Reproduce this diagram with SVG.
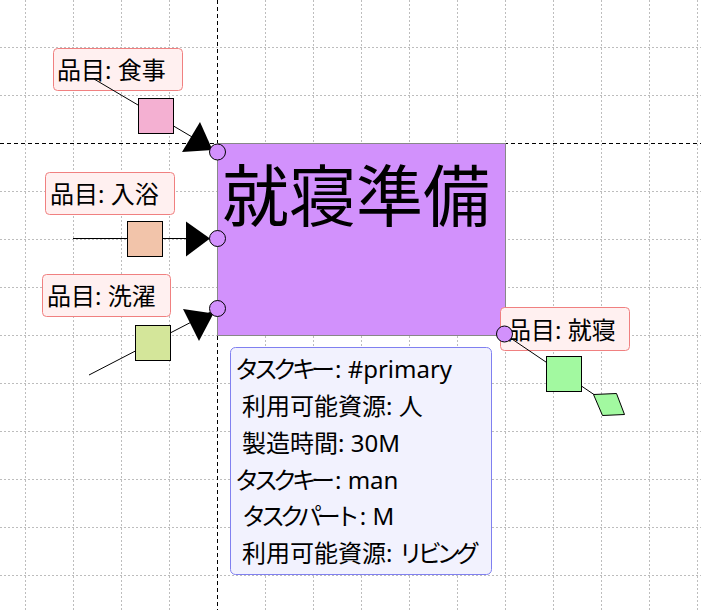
<svg xmlns="http://www.w3.org/2000/svg" width="701" height="610" viewBox="0 0 701 610">
<style>
.grid{stroke:#bdbdbd;stroke-width:1;stroke-dasharray:2 2;fill:none}
.guide{stroke:#000;stroke-width:1;stroke-dasharray:4 3;fill:none}
.edge{stroke:#000;stroke-width:1;fill:none}
.head{fill:#000;stroke:none}
.port{fill:#d291fc;stroke:#000;stroke-width:1}
.sq{stroke:#000;stroke-width:1}
.lbl{fill:#fff0f0;stroke:#f08080;stroke-width:1}
.t{font-family:"Noto Sans","Noto Sans CJK JP",sans-serif;font-size:24px;fill:#000}
.k{letter-spacing:-5px}
</style>
<rect width="701" height="610" fill="#fff"/>
<g id="grid">
<path class="grid" d="M25.5 0V610M73.5 0V610M121.5 0V610M169.5 0V610M265.5 0V610M313.5 0V610M361.5 0V610M409.5 0V610M457.5 0V610M505.5 0V610M553.5 0V610M601.5 0V610M649.5 0V610M697.5 0V610"/>
<path class="grid" d="M0 47.5H701M0 95.5H701M0 191.5H701M0 239.5H701M0 287.5H701M0 335.5H701M0 383.5H701M0 431.5H701M0 479.5H701M0 527.5H701M0 575.5H701"/>
<path class="guide" d="M217.5 0V610M0 143.5H701"/>
</g>
<g id="task-main">
<rect x="217.5" y="143.5" width="288" height="192" fill="#d291fc" stroke="#888" stroke-width="1"/>
<text x="222" y="221" font-family="Noto Sans CJK JP,sans-serif" font-size="67" fill="#000">就寝準備</text>
</g>
<g id="label-meal">
<rect class="lbl" x="53.5" y="48.5" width="129" height="42" rx="4"/>
<text class="t" x="57" y="79">品目: 食事</text>
</g>
<g id="label-bath">
<rect class="lbl" x="45.5" y="172.5" width="129" height="42" rx="4"/>
<text class="t" x="50" y="203">品目: 入浴</text>
</g>
<g id="label-laundry">
<rect class="lbl" x="42.5" y="274.5" width="128" height="42" rx="4"/>
<text class="t" x="47" y="305">品目: 洗濯</text>
</g>
<g id="label-sleep">
<rect class="lbl" x="500.5" y="307.5" width="129" height="43" rx="4"/>
<text class="t" x="507" y="339">品目: 就寝</text>
</g>
<g id="connectors">
<path class="edge" d="M94 79L217.5 152"/>
<path class="edge" d="M73 238.5H217.5"/>
<path class="edge" d="M89 375L217.5 308.5"/>
<path class="edge" d="M504.5 334L608 404"/>
<polygon class="head" points="200,122 182,152 212.5,150"/>
<polygon class="head" points="186,221.5 186,256.5 210,238.5"/>
<polygon class="head" points="183,309 199,341 213.5,313.5"/>
</g>
<g id="item-meal"><rect class="sq" x="138.5" y="98.5" width="35" height="35" fill="#f4b0d2"/></g>
<g id="item-bath"><rect class="sq" x="127.5" y="221.5" width="35" height="35" fill="#f2c4aa"/></g>
<g id="item-laundry"><rect class="sq" x="135.5" y="325.5" width="35" height="35" fill="#d4e69a"/></g>
<g id="item-sleep"><rect class="sq" x="546.5" y="356.5" width="35" height="35" fill="#a2f9a0"/></g>
<g id="item-sleep-out"><polygon points="593.5,394.5 616.5,393.5 624.5,414.5 602.5,415.5" fill="#a2f9a0" stroke="#000" stroke-width="1"/></g>
<g id="ports">
<circle class="port" cx="217.5" cy="152" r="8"/>
<circle class="port" cx="217.5" cy="238.5" r="8"/>
<circle class="port" cx="217.5" cy="308.5" r="8"/>
<circle class="port" cx="504.5" cy="334" r="8"/>
</g>
<g id="task-info">
<rect x="230.5" y="347.5" width="261" height="227" rx="5" fill="#f2f2fe" stroke="#8080f0" stroke-width="1"/>
<text class="t" x="235" y="378"><tspan class="k">タスクキ</tspan>ー: #primary</text>
<text class="t" x="242" y="415">利用可能資源: 人</text>
<text class="t" x="242" y="451.5">製造時間: 30M</text>
<text class="t" x="235" y="488.5"><tspan class="k">タスクキ</tspan>ー: man</text>
<text class="t" x="242" y="525"><tspan class="k">タスクパー</tspan>ト: M</text>
<text class="t" x="242" y="562">利用可能資源: <tspan class="k">リビン</tspan>グ</text>
</g>
</svg>
